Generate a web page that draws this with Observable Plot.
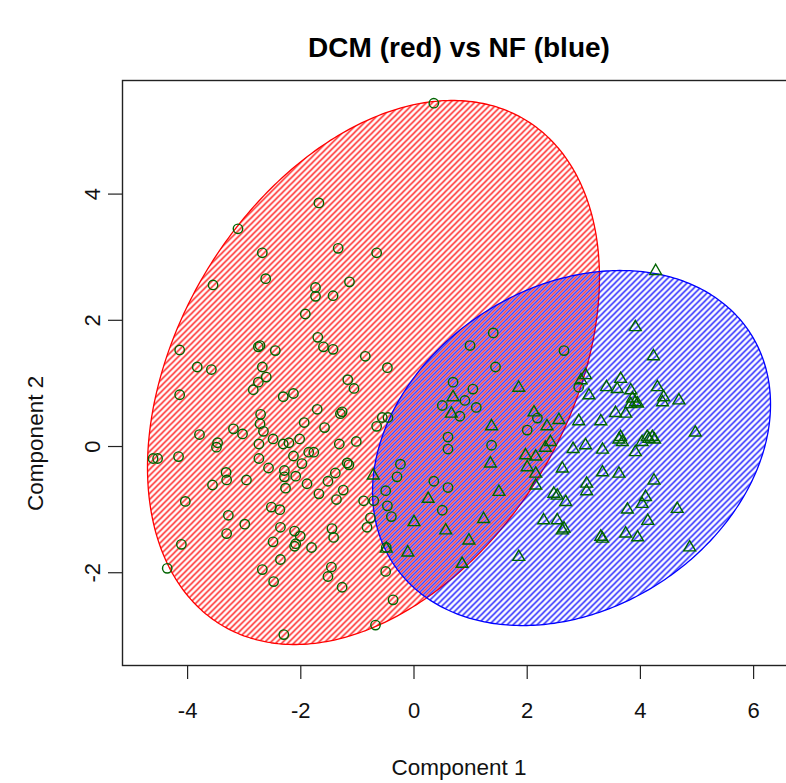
<!DOCTYPE html>
<html>
<head>
<meta charset="utf-8">
<script src="https://cdn.jsdelivr.net/npm/d3@7"></script>
<script src="https://cdn.jsdelivr.net/npm/@observablehq/plot@0.6"></script>
<style>
  html, body { margin: 0; padding: 0; background: #fff; overflow: hidden; }
  #chart svg { font-family: "Liberation Sans", Arial, sans-serif; }
</style>
</head>
<body>
<div id="chart"></div>
<script>
// ---- data ----
const titleText = "DCM (red) vs NF (blue)";
const xLabel = "Component 1";
const yLabel = "Component 2";
const xTicks = [-4, -2, 0, 2, 4, 6];
const yTicks = [-2, 0, 2, 4];

// DCM group (circles)
const dcmX = [0.35,-1.68,-3.11,-1.34,-0.66,-2.68,-2.62,-3.55,-1.14,-1.74,-1.74,-1.43,-1.92,-1.70,-1.60,-1.43,-0.86,-0.47,-4.14,-2.72,-2.75,-2.45,-3.83,-3.58,-2.68,-2.61,-2.75,-2.84,-4.14,-2.31,-2.13,-1.17,-1.06,-2.71,-1.94,-1.71,-1.27,-1.30,-1.58,-0.56,-0.46,-0.66,-2.72,-2.66,-3.19,-3.03,-3.79,-3.47,-3.49,-2.49,-2.74,-2.31,-2.21,-2.02,-1.86,-4.61,-4.53,-4.16,-2.74,-2.13,-1.98,-2.57,-2.29,-3.32,-3.31,-2.29,-2.09,-1.89,-3.56,-2.96,-2.27,-4.04,-2.52,-2.37,-3.28,-2.99,-2.36,-2.11,-2.01,-3.31,-2.09,-2.11,-2.49,-1.81,-4.11,-2.36,-4.36,-2.68,-2.48,-2.30,-1.77,-1.18,-1.15,-1.02,-1.32,-0.24,-1.39,-1.52,-1.25,-1.68,-1.37,-0.89,-0.71,-0.77,-0.83,-1.45,-1.42,-1.46,-1.52,-1.27,-0.50,-0.37,-0.68,-0.30,-0.50,-0.47,-0.40,0.35,0.60,0.50,1.40,0.99,2.65,1.44,0.69,1.04,0.50,0.90,1.10,0.81,0.60,0.60,1.37,2.00,2.18,2.91,-0.49];
const dcmY = [5.44,3.86,3.45,3.14,3.07,3.07,2.66,2.56,2.61,2.52,2.38,2.39,2.10,1.73,1.58,1.54,1.43,1.25,1.53,1.60,1.58,1.52,1.26,1.22,1.26,1.10,1.02,0.90,0.82,0.79,0.84,1.06,0.92,0.51,0.38,0.59,0.55,0.52,0.30,0.46,0.46,0.32,0.36,0.24,0.28,0.20,0.19,0.06,-0.01,0.12,0.04,0.04,0.06,0.12,-0.09,-0.19,-0.19,-0.16,-0.19,-0.15,-0.27,-0.34,-0.38,-0.41,-0.53,-0.48,-0.47,-0.59,-0.61,-0.53,-0.66,-0.87,-0.96,-1.00,-1.09,-1.23,-1.28,-1.34,-1.42,-1.38,-1.54,-1.58,-1.51,-1.60,-1.55,-1.79,-1.93,-1.95,-2.14,-2.98,-0.09,-0.26,-0.29,0.08,0.04,-0.28,-0.42,-0.55,-0.69,-0.75,-0.84,-0.86,-0.86,-1.13,-1.28,-1.30,-1.44,-1.91,-2.06,-2.23,-1.98,-2.43,-2.83,-0.48,-0.70,-0.94,-1.11,-0.55,-0.65,-1.01,1.80,1.60,1.52,1.26,1.02,0.91,0.65,0.73,0.62,0.48,0.15,-0.04,0.02,0.26,0.45,0.94,-1.60];

// NF group (triangles)
const nfX = [-0.72,0.25,0.00,-0.49,-0.11,1.85,0.69,0.66,1.37,2.12,2.35,2.56,2.41,2.32,1.97,2.15,1.35,2.00,2.15,2.62,1.50,2.15,2.47,2.53,2.68,1.23,2.29,2.53,2.65,2.62,0.56,0.97,1.85,0.85,4.27,3.91,4.23,3.03,2.95,3.65,3.40,3.59,3.83,4.30,3.09,3.86,3.91,4.41,4.68,4.39,3.56,3.74,3.83,3.95,2.91,3.30,4.97,3.65,4.12,4.21,2.81,3.03,3.33,3.62,3.68,4.03,4.15,4.25,3.91,3.33,3.62,4.24,3.05,3.05,4.09,4.03,3.77,4.65,4.13,3.30,3.33,3.74,3.95,4.87];
const nfY = [-0.46,-0.83,-1.20,-1.62,-1.68,0.93,0.78,0.52,0.32,0.54,0.32,0.42,0.07,-0.02,-0.14,-0.16,-0.27,-0.33,-0.43,-0.35,-0.72,-0.62,-0.75,-0.78,-0.88,-1.15,-1.17,-1.17,-1.30,-1.33,-1.33,-1.49,-1.75,-1.86,2.78,1.89,1.43,1.13,1.05,1.07,0.94,0.91,0.89,0.94,0.81,0.76,0.70,0.78,0.73,0.70,0.53,0.52,0.67,0.68,0.40,0.40,0.22,0.15,0.15,0.15,-0.04,0.02,-0.05,0.11,0.07,0.07,0.12,0.11,-0.09,-0.41,-0.43,-0.54,-0.59,-0.71,-0.80,-0.91,-1.00,-0.99,-1.18,-1.43,-1.46,-1.38,-1.44,-1.60];

// Cluster ellipses: centre and shape matrix (data units) for DCM, NF
const ellipseCx  = [-0.716, 2.783];
const ellipseCy  = [1.173, -0.024];
const ellipseSxx = [15.94, 12.36];
const ellipseSxy = [6.01, 2.435];
const ellipseSyy = [18.58, 7.913];

// ---- build ----
const dcm = dcmX.map((x, i) => ({x, y: dcmY[i]}));
const nf = nfX.map((x, i) => ({x, y: nfY[i]}));

function ellipsePath(i) {
  const l11 = Math.sqrt(ellipseSxx[i]);
  const l21 = ellipseSxy[i] / l11;
  const l22 = Math.sqrt(ellipseSyy[i] - l21 * l21);
  return d3.range(0, 361).map(k => {
    const t = k * Math.PI / 180;
    return {x: ellipseCx[i] + l11 * Math.cos(t), y: ellipseCy[i] + l21 * Math.cos(t) + l22 * Math.sin(t)};
  });
}

const ink = "#222";
const green = "#006400";

const plot = Plot.plot({
  width: 786,
  height: 783,
  marginLeft: 122,
  marginRight: -9,
  marginTop: 80,
  marginBottom: 118,
  x: {domain: [-5.15, 6.74]},
  y: {domain: [-3.47, 5.80]},
  style: {fontFamily: "Liberation Sans, Arial, sans-serif", background: "white", overflow: "hidden"},
  marks: [
    Plot.line(ellipsePath(0), {x: "x", y: "y", stroke: "#ff0000", strokeWidth: 1.3, fill: "url(#hatchRed)"}),
    Plot.line(ellipsePath(1), {x: "x", y: "y", stroke: "#0000ff", strokeWidth: 1.3, fill: "url(#hatchBlue)"}),
    Plot.dot(dcm, {x: "x", y: "y", symbol: "circle", r: 4.7, stroke: green, strokeWidth: 1.4, fill: "none"}),
    Plot.dot(nf, {x: "x", y: "y", symbol: "triangle", r: 4.4, stroke: green, strokeWidth: 1.4, fill: "none"}),
    Plot.frame({stroke: ink, strokeWidth: 1.4}),
    Plot.axisX(xTicks, {tickSize: 14, tickFormat: () => "", label: null, stroke: ink, strokeWidth: 1.2}),
    Plot.axisY(yTicks, {tickSize: 14, tickFormat: () => "", label: null, stroke: ink, strokeWidth: 1.2}),
    Plot.text(xTicks, {x: d => d, frameAnchor: "bottom", dy: 45, text: d => String(d), fontSize: 22, fill: "#111", textAnchor: "middle", lineAnchor: "middle"}),
    Plot.text(yTicks, {y: d => d, frameAnchor: "left", dx: -30, rotate: -90, text: d => String(d), fontSize: 22, fill: "#111", textAnchor: "middle", lineAnchor: "middle"}),
    Plot.text([xLabel], {frameAnchor: "bottom", dy: 102, text: d => d, fontSize: 22.5, fill: "#111", textAnchor: "middle", lineAnchor: "middle"}),
    Plot.text([yLabel], {y: () => 0.05, frameAnchor: "left", dx: -87, rotate: -90, text: d => d, fontSize: 22.5, fill: "#111", textAnchor: "middle", lineAnchor: "middle"}),
    Plot.text([titleText], {frameAnchor: "top", dy: -32, text: d => d, fontSize: 28, fontWeight: "bold", fill: "#000", textAnchor: "middle", lineAnchor: "middle"})
  ]
});

// hatch patterns for the ellipses: pixel-aligned 45° lines, 6px horizontal period
const defs = d3.select(plot).insert("defs", ":first-child");
function hatch(id, color, shift) {
  const p = defs.append("pattern")
    .attr("id", id)
    .attr("patternUnits", "userSpaceOnUse")
    .attr("x", shift).attr("y", 0)
    .attr("width", 6).attr("height", 6);
  p.append("path")
    .attr("d", "M-1,1L1,-1M0,6L6,0M5,7L7,5")
    .attr("stroke", color).attr("stroke-width", 1.3).attr("fill", "none");
}
hatch("hatchRed", "#ff0000", 0);
hatch("hatchBlue", "#0000ff", 3);

document.getElementById("chart").appendChild(plot);
</script>
</body>
</html>
